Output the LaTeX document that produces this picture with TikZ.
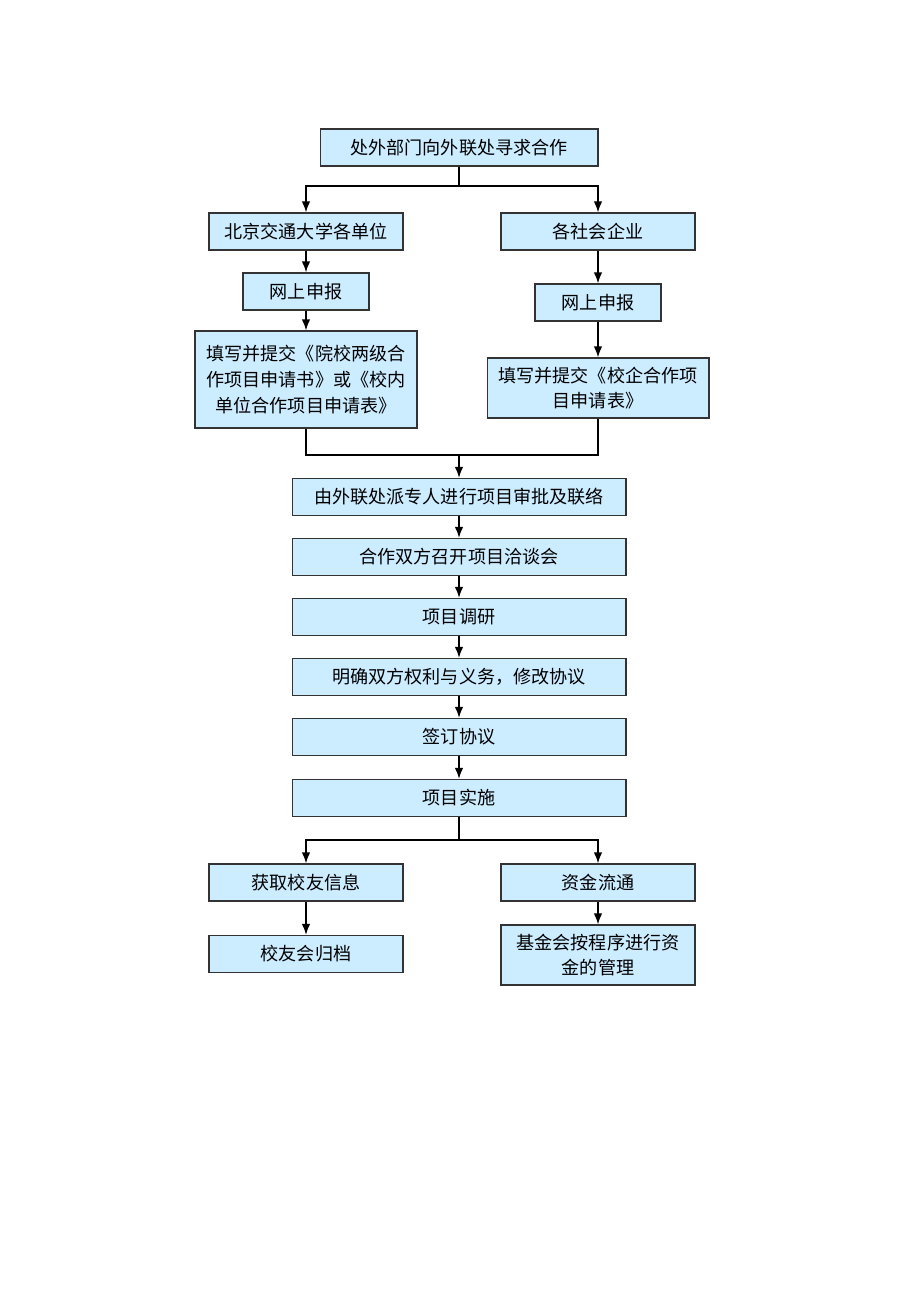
\documentclass[tikz,border=0pt]{standalone}
\usepackage{fontspec}
\setmainfont{Noto Sans CJK SC}
\usetikzlibrary{positioning,arrows.meta}
\definecolor{boxblue}{RGB}{204,236,255}
\tikzset{
  box/.style={draw=black!80, fill=boxblue, line width=0.6pt, align=center, inner sep=0pt,
    minimum height=0.74cm, font=\fontsize{10.3pt}{14.6pt}\selectfont},
  sidebox/.style={box, minimum width=3.88cm},
  midbox/.style={box, minimum width=6.68cm},
  arr/.style={-{Latex[length=2.2mm,width=1.7mm]}, line width=1pt},
}
\begin{document}
\begin{tikzpicture}[x=0.02cm,y=-0.02cm]
\useasboundingbox (0,0) rectangle (920,1302);
% top part
\node[box, minimum width=5.56cm] (qiu) at (459,147.5) {处外部门向外联处寻求合作};
\node[sidebox] (bj) at (306,231.5) {北京交通大学各单位};
\node[sidebox] (sh) at (598,231.5) {各社会企业};
\node[box, minimum width=2.52cm] (bjwang) at (306,291.5) {网上申报};
\node[box, minimum width=2.52cm] (shwang) at (598,302.5) {网上申报};
\node[box, minimum width=4.44cm, minimum height=1.94cm] (bjform) at (306,379.5)
  {填写并提交《院校两级合\\作项目申请书》或《校内\\单位合作项目申请表》};
\node[box, minimum width=4.44cm, minimum height=1.2cm] (shform) at (598,388)
  {填写并提交《校企合作项\\目申请表》};
% middle chain
\node[midbox] (shenpi) at (459,497) {由外联处派专人进行项目审批及联络};
\node[midbox] (qiatan) at (459,557) {合作双方召开项目洽谈会};
\node[midbox] (diaoyan) at (459,617) {项目调研};
\node[midbox] (mingque) at (459,677) {明确双方权利与义务，修改协议};
\node[midbox] (qianding) at (459,737) {签订协议};
\node[midbox] (shishi) at (459,798) {项目实施};
% bottom part
\node[sidebox] (xiaoyou) at (306,882.5) {获取校友信息};
\node[sidebox] (guidang) at (306,954) {校友会归档};
\node[sidebox] (zijin) at (598,882.5) {资金流通};
\node[sidebox, minimum height=1.2cm] (guanli) at (598,955) {基金会按程序进行资\\金的管理};
\coordinate (fen1) at (459,186);
\coordinate (he) at (459,455);
\coordinate (fen2) at (459,840);
% connectors
\draw[line width=1pt] (qiu.south) -- (fen1);
\draw[arr] (fen1) -| (bj.north);
\draw[arr] (fen1) -| (sh.north);
\draw[arr] (bj) -- (bjwang);
\draw[arr] (bjwang) -- (bjform);
\draw[arr] (sh) -- (shwang);
\draw[arr] (shwang) -- (shform);
\draw[line width=1pt] (bjform.south) |- (he) -| (shform.south);
\draw[arr] (he) -- (shenpi.north);
\foreach \a/\b in {shenpi/qiatan, qiatan/diaoyan, diaoyan/mingque, mingque/qianding, qianding/shishi}
  \draw[arr] (\a) -- (\b);
\draw[line width=1pt] (shishi.south) -- (fen2);
\draw[arr] (fen2) -| (xiaoyou.north);
\draw[arr] (fen2) -| (zijin.north);
\draw[arr] (xiaoyou) -- (guidang);
\draw[arr] (zijin) -- (guanli);
\end{tikzpicture}
\end{document}
